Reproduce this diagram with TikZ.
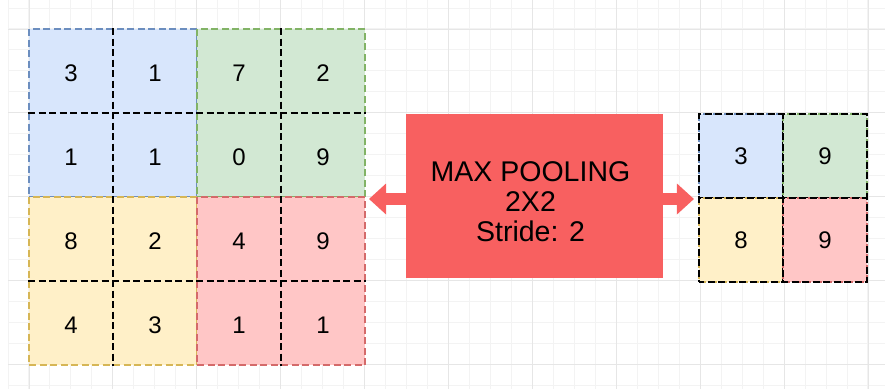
\documentclass[tikz,border=0pt]{standalone}
\usepackage{fontspec}
\setmainfont{Liberation Sans}
\usetikzlibrary{arrows.meta,fit}

\definecolor{blueFill}{HTML}{D8E6FC}
\definecolor{blueLine}{HTML}{6C8EBF}
\definecolor{greenFill}{HTML}{D2E8D3}
\definecolor{greenLine}{HTML}{82B366}
\definecolor{yellowFill}{HTML}{FFF0C8}
\definecolor{yellowLine}{HTML}{D6B656}
\definecolor{redFill}{HTML}{FFC6C6}
\definecolor{redLine}{HTML}{D46A6A}
\definecolor{poolRed}{HTML}{F86060}
\definecolor{gridMinor}{HTML}{F3F3F3}
\definecolor{gridMajor}{HTML}{E6E6E6}

\tikzset{
  dashstyle/.style={dash pattern=on 7pt off 3.5pt},
  block/.style={rectangle, minimum width=168pt, minimum height=168pt, inner sep=0pt,
                line width=1.7pt, dashstyle},
  cell/.style={rectangle, minimum width=84pt, minimum height=84pt, inner sep=0pt,
               font=\fontsize{24}{28}\selectfont},
  outcell/.style={cell, line width=1.8pt, dashstyle,
                  postaction={draw=black, line width=1.8pt, dash pattern=on 7pt off 3.5pt, dash phase=2pt}},
  innerdash/.style={draw=black, line width=2pt, dashstyle},
  poolbox/.style={rectangle, fill=poolRed, minimum width=257pt, minimum height=164pt, inner sep=0pt},
  fatarrow/.style={draw=poolRed, line width=12pt, shorten <=-2pt,
                   -{Triangle[width=31pt,length=17pt,line width=0pt,fill=poolRed]}},
}

\begin{document}
\begin{tikzpicture}[x=1pt,y=-1pt]
  % canvas
  \fill[white] (0,0) rectangle (885,389);
  \useasboundingbox (0,0) rectangle (885,389);

  % background grid
  \begin{scope}
    \clip (8,0) rectangle (885,389);
    \foreach \i in {0,...,42}
      \draw[gridMinor, line width=1pt] (8+\i*20.975,0) -- (8+\i*20.975,389);
    \foreach \j in {0,...,18}
      \draw[gridMinor, line width=1pt] (8,8+\j*20.975) -- (885,8+\j*20.975);
    \foreach \i in {0,...,10}
      \draw[gridMajor, line width=1pt] (29+\i*83.9,0) -- (29+\i*83.9,389);
    \foreach \j in {0,...,4}
      \draw[gridMajor, line width=1pt] (8,29+\j*83.9) -- (885,29+\j*83.9);
  \end{scope}

  % input feature map: four 2x2 pooling windows
  \node[block, fill=blueFill,   draw=blueLine]   (blkA) at (113,113) {};
  \node[block, fill=greenFill,  draw=greenLine]  (blkB) at (281,113) {};
  \node[block, fill=yellowFill, draw=yellowLine] (blkC) at (113,281) {};
  \node[block, fill=redFill,    draw=redLine]    (blkD) at (281,281) {};
  \node[fit=(blkA)(blkD), inner sep=0pt] (inmap) {};

  % cell separators inside the windows
  \draw[innerdash] (blkA.north) -- (blkC.south);
  \draw[innerdash] (blkB.north) -- (blkD.south);
  \draw[innerdash] (blkA.west) -- (blkB.east);
  \draw[innerdash] (blkC.west) -- (blkD.east);

  % input values
  \node[cell] (c11) at (71,73)  {3};
  \node[cell] (c12) at (155,73) {1};
  \node[cell] (c13) at (239,73) {7};
  \node[cell] (c14) at (323,73) {2};
  \node[cell] (c21) at (71,157)  {1};
  \node[cell] (c22) at (155,157) {1};
  \node[cell] (c23) at (239,157) {0};
  \node[cell] (c24) at (323,157) {9};
  \node[cell] (c31) at (71,241)  {8};
  \node[cell] (c32) at (155,241) {2};
  \node[cell] (c33) at (239,241) {4};
  \node[cell] (c34) at (323,241) {9};
  \node[cell] (c41) at (71,325)  {4};
  \node[cell] (c42) at (155,325) {3};
  \node[cell] (c43) at (239,325) {1};
  \node[cell] (c44) at (323,325) {1};

  % pooling operation
  \node[poolbox] (pool) at (534.5,196) {};
  \node[align=center, inner sep=0pt, font=\fontsize{28.5}{30}\selectfont]
    (poolText) at (530.5,202) {MAX POOLING\\2X2\\Stride: 2};

  % output feature map
  \node[outcell, fill=blueFill,   draw=blueLine]   (o11) at (741,156) {3};
  \node[outcell, fill=greenFill,  draw=greenLine]  (o12) at (825,156) {9};
  \node[outcell, fill=yellowFill, draw=yellowLine] (o21) at (741,240) {8};
  \node[outcell, fill=redFill,    draw=redLine]    (o22) at (825,240) {9};
  \node[fit=(o11)(o22), inner sep=0pt] (outmap) {};

  % arrows out of the pooling box
  \coordinate (ltip) at ([xshift=3pt,yshift=-2pt]inmap.east);
  \coordinate (rtip) at ([xshift=-4pt,yshift=-1pt]outmap.west);
  \draw[fatarrow] (pool.west |- ltip) -- (ltip);
  \draw[fatarrow] (pool.east |- rtip) -- (rtip);
\end{tikzpicture}
\end{document}
